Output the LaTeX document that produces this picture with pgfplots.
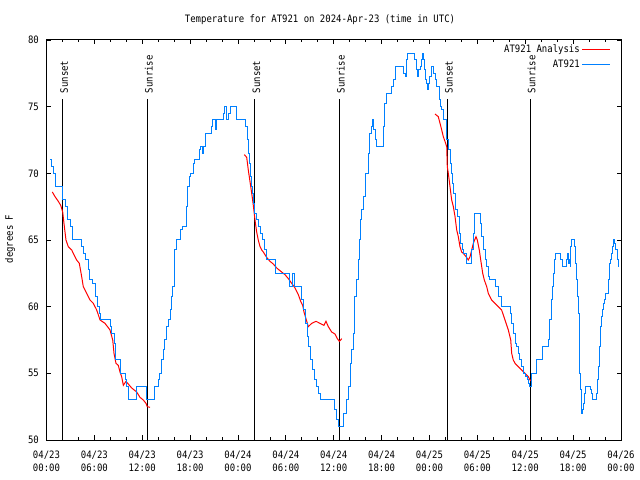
\documentclass[border=0pt]{standalone}
\usepackage{fontspec}
\setmainfont{DejaVu Sans Mono}[FakeStretch=0.88]
\usepackage{pgfplots}
\pgfplotsset{compat=1.18}
\definecolor{atblue}{RGB}{0,128,255}
\definecolor{atred}{RGB}{255,0,0}
\begin{document}
\fontsize{10.2bp}{12bp}\selectfont
\begin{tikzpicture}
\useasboundingbox (0,0) rectangle (640bp,480bp);
\node[anchor=center] at (320bp,460.5bp) {Temperature for AT921 on 2024-Apr-23 (time in UTC)};
\node[rotate=90, anchor=center] at (10bp,241bp) {degrees F};
\begin{axis}[
  at={(46.5bp,40bp)}, anchor=south west,
  scale only axis, width=574.5bp, height=400bp,
  xmin=0, xmax=72, ymin=50, ymax=80,
  xtick={0,6,...,72},
  xticklabels={{04/23\\00:00},{04/23\\06:00},{04/23\\12:00},{04/23\\18:00},{04/24\\00:00},{04/24\\06:00},{04/24\\12:00},{04/24\\18:00},{04/25\\00:00},{04/25\\06:00},{04/25\\12:00},{04/25\\18:00},{04/26\\00:00}},
  minor x tick num=2,
  ytick={50,55,...,80},
  tick align=inside,
  major tick length=4.5bp, minor tick length=2.5bp,
  tick style={black, line width=0.8bp},
  axis line style={black, line width=1bp},
  xticklabel style={align=center, font=\fontsize{10.2bp}{13bp}\selectfont, yshift=-7bp},
  yticklabel style={font=\fontsize{10.2bp}{12bp}\selectfont, xshift=-4bp},
  /pgf/number format/assume math mode=true,
  legend style={at={(1,1)}, anchor=north east, xshift=-10bp, yshift=-3bp, draw=none, fill=none, inner sep=0pt, row sep=1bp, font=\fontsize{10.2bp}{12bp}\selectfont},
  legend cell align=right,
  legend plot pos=right,
  legend image code/.code={\draw[#1, line width=1bp] (4bp,0bp) -- (32bp,0bp);},
]
% sunrise / sunset lines
\addplot[black, line width=1bp, forget plot] coordinates {(2.03,50) (2.03,75.6)};
\addplot[black, line width=1bp, forget plot] coordinates {(12.63,50) (12.63,75.6)};
\addplot[black, line width=1bp, forget plot] coordinates {(26.13,50) (26.13,75.6)};
\addplot[black, line width=1bp, forget plot] coordinates {(36.70,50) (36.70,75.6)};
\addplot[black, line width=1bp, forget plot] coordinates {(50.23,50) (50.23,75.6)};
\addplot[black, line width=1bp, forget plot] coordinates {(60.60,50) (60.60,75.6)};
\node[rotate=90, anchor=west, inner sep=0pt] at ([xshift=1.5bp]axis cs:2.03,76.0) {Sunset};
\node[rotate=90, anchor=west, inner sep=0pt] at ([xshift=1.5bp]axis cs:12.63,76.0) {Sunrise};
\node[rotate=90, anchor=west, inner sep=0pt] at ([xshift=1.5bp]axis cs:26.13,76.0) {Sunset};
\node[rotate=90, anchor=west, inner sep=0pt] at ([xshift=1.5bp]axis cs:36.70,76.0) {Sunrise};
\node[rotate=90, anchor=west, inner sep=0pt] at ([xshift=1.5bp]axis cs:50.23,76.0) {Sunset};
\node[rotate=90, anchor=west, inner sep=0pt] at ([xshift=1.5bp]axis cs:60.60,76.0) {Sunrise};
% AT921 Analysis (red)
\addplot[atred, line width=1bp] coordinates {
(0.73,68.6) (1.07,68.25) (1.48,67.9) (1.78,67.6) (2.03,67.1) (2.19,66.25) (2.44,65) (2.73,64.5)
(3.16,64.25) (3.36,64) (3.78,63.5) (4.11,63.25) (4.41,62.25) (4.61,61.5) (5.04,61) (5.45,60.5)
(5.87,60.25) (6.29,59.75) (6.71,59) (7.33,58.75) (7.96,58.25) (8.30,57.5) (8.46,56.5) (8.71,55.75)
(9.00,55.6) (9.21,55.1) (9.42,54.75) (9.63,54.1) (9.96,54.4) (10.25,54.2) (10.68,53.9) (11.30,53.6)
(11.72,53.2) (12.13,53) (12.47,52.75) (12.63,52.5) (12.97,52.45)
};
\addlegendentry{AT921 Analysis}
\addplot[atred, line width=1bp, forget plot] coordinates {
(24.79,71.4) (25.09,71.2) (25.29,70.25) (25.50,69.4) (25.72,68.5) (25.92,67.6) (26.13,66.5) (26.34,65.6)
(26.54,65) (26.76,64.5) (26.97,64.25) (27.17,64.1) (27.38,63.9) (27.59,63.7) (28.01,63.4) (28.42,63.2)
(28.85,62.9) (29.26,62.7) (29.89,62.4) (30.31,62.1) (30.73,61.75) (31.15,61.4) (31.56,60.9) (31.86,60.4)
(32.11,60.1) (32.27,59.6) (32.52,59.1) (32.81,58.5) (33.24,58.75) (33.78,58.9) (34.28,58.75) (34.78,58.6)
(35.03,58.9) (35.32,58.5) (35.74,58.1) (36.16,57.95) (36.45,57.6) (36.70,57.4) (36.87,57.5) (37.00,57.6)
};
\addplot[atred, line width=1bp, forget plot] coordinates {
(48.69,74.45) (49.10,74.25) (49.32,73.75) (49.53,73.25) (49.73,72.75) (49.94,72.4) (50.16,72) (50.23,70.5)
(50.36,70) (50.57,69) (50.78,68) (50.99,67.5) (51.20,66.75) (51.41,65.75) (51.61,65.25) (51.82,64.5)
(52.03,64.1) (52.24,64) (52.58,63.75) (52.86,63.5) (53.08,63.75) (53.29,64.25) (53.49,64.75) (53.83,65.25)
(53.99,65) (54.24,64.25) (54.42,63.5) (54.67,62.5) (54.87,62) (55.17,61.5) (55.37,61) (55.58,60.75)
(55.79,60.5) (56.21,60.25) (56.62,60) (57.04,59.75) (57.46,59) (57.88,58.25) (58.18,57.5) (58.30,56.5)
(58.50,56) (58.72,55.75) (59.13,55.5) (59.55,55.25) (59.97,55) (60.38,54.75) (60.60,54.5) (60.81,54.4)
};
% AT921 (blue)
\addplot[atblue, line width=1bp, const plot] coordinates {
(0.44,71) (0.65,70.5) (0.85,70) (1.07,69.5) (1.19,69) (2.03,68) (2.32,67.5) (2.61,66.5) (2.95,66)
(3.28,65) (4.41,64.5) (4.61,64) (4.95,63.5) (5.24,62.75) (5.45,62) (5.79,61.75) (6.08,60.75) (6.37,60)
(6.62,59.5) (6.79,59) (7.96,58.5) (8.17,58) (8.46,57.25) (8.71,56) (9.30,55) (9.84,54.5) (10.05,54)
(10.25,53) (11.22,54) (12.47,53) (13.51,54) (14.06,54.5) (14.22,55) (14.44,56) (14.64,56.75) (14.85,57.5)
(14.98,58.5) (15.26,59) (15.48,59.75) (15.69,60.75) (15.82,61.5) (15.98,62.75) (16.10,64.25) (16.23,65)
(16.82,65.75) (17.07,66) (17.57,67.5) (17.70,69) (17.90,69.75) (18.07,70) (18.40,70.75) (18.52,71)
(19.15,71.75) (19.33,72) (19.53,71.5) (19.65,72) (19.95,73) (20.62,73.5) (20.78,74) (21.24,73.25)
(21.33,74) (22.16,74.5) (22.28,75) (22.50,74) (22.78,74.5) (23.00,75) (23.84,74) (25.00,73.5)
(25.13,72.5) (25.29,71.5) (25.42,70.75) (25.54,69.75) (25.67,69) (25.84,68.5) (25.97,67.75) (26.13,67)
(26.34,66.5) (26.54,66) (26.76,65.5) (27.09,65) (27.38,64.25) (27.60,63.5) (28.64,62.5) (30.43,61.5)
(30.86,62.5) (31.14,61.5) (31.98,60.5) (32.18,59.75) (32.40,58.75) (32.65,57.75) (32.81,57) (33.11,56)
(33.31,55.25) (33.56,54.5) (33.86,54) (34.06,53.5) (34.40,53) (36.07,52.25) (36.37,51.5) (36.57,51)
(37.20,52) (37.62,53) (37.82,54) (38.04,55) (38.12,55.75) (38.25,56.75) (38.45,58) (38.54,59.5)
(38.66,60.75) (38.88,62) (39.08,63.5) (39.20,65) (39.38,66.5) (39.50,67.25) (39.70,67.75) (39.79,68.25)
(39.92,69) (40.04,70) (40.33,71.5) (40.46,72.25) (40.54,73) (40.76,73.5) (40.88,74) (40.96,73.25)
(41.17,72.5) (41.38,72) (42.21,73.5) (42.30,74.25) (42.42,75.25) (42.64,76) (43.26,76.5) (43.46,77)
(43.68,78) (44.72,77.5) (44.93,77.25) (45.06,77.75) (45.14,78.5) (45.27,79) (46.10,78.5) (46.31,77.75)
(46.47,77.25) (46.60,77.75) (46.81,78) (47.02,78.5) (47.15,79) (47.22,78.5) (47.35,77.75) (47.52,77)
(47.65,76.75) (47.77,76.25) (47.90,76.75) (48.06,77.25) (48.28,78) (48.48,77.5) (48.69,77) (48.90,76.5)
(49.23,75.5) (49.40,75) (49.53,74.75) (49.78,74) (50.16,72.5) (50.36,71.75) (50.57,70.75) (50.78,70)
(50.91,69.25) (50.99,68.5) (51.20,68) (51.32,67.25) (51.49,66.75) (51.74,65.5) (51.91,64.75) (52.16,64.25)
(52.32,64) (52.58,63.75) (52.66,63.25) (53.29,64.25) (53.49,65.5) (53.70,67) (54.42,66.25) (54.54,65.25)
(54.74,64.25) (54.96,63.5) (55.17,63) (55.37,62.25) (55.58,62) (56.21,61.5) (56.62,60.75) (57.04,60)
(58.09,59.5) (58.30,58.75) (58.50,58) (58.72,57.25) (58.93,57) (59.13,56.5) (59.34,56) (59.55,55.5)
(59.76,55) (59.97,54.75) (60.26,54.5) (60.38,54.25) (60.51,54) (60.81,55) (61.44,56) (62.19,57)
(62.89,57.5) (63.01,58.25) (63.10,59) (63.23,59.75) (63.35,60.5) (63.44,61.5) (63.52,62.5) (63.64,63.5)
(63.73,64) (64.44,63.5) (64.69,63) (65.19,63.5) (65.27,64) (65.45,63.25) (65.52,63.5) (65.61,63)
(65.69,64.5) (65.82,65) (66.11,64.5) (66.24,63.25) (66.36,62) (66.52,60.75) (66.65,59.5) (66.77,57)
(66.86,55) (66.95,53.75) (67.02,53) (67.11,52) (67.23,52.25) (67.36,52.75) (67.48,53.5) (67.61,54)
(68.20,53.75) (68.33,53.5) (68.45,53) (68.87,53.5) (69.03,54.5) (69.16,55.5) (69.28,57) (69.46,58.5)
(69.59,59.25) (69.66,59.75) (69.79,60.25) (69.87,60.5) (70.00,61) (70.42,62) (70.51,63.25) (70.63,63.5)
(70.78,64) (70.90,64.25) (70.99,64.5) (71.12,65) (71.24,64.75) (71.37,64.25) (71.53,63.5) (71.66,63)
(71.75,63)
};
\addlegendentry{AT921}
\end{axis}
\end{tikzpicture}
\end{document}
